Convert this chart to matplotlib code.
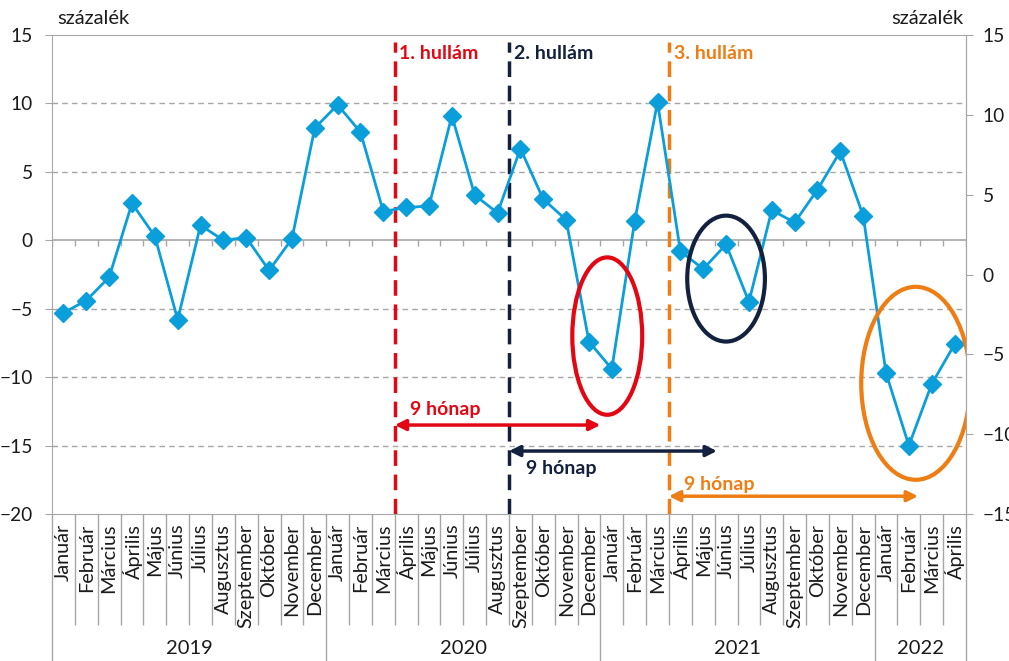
import numpy as np
import matplotlib.pyplot as plt
from matplotlib.patches import Ellipse

plt.rcParams['font.family'] = ['Lato', 'DejaVu Sans']

# --- data ---
months = ['Január', 'Február', 'Március', 'Április', 'Május', 'Június', 'Július',
          'Augusztus', 'Szeptember', 'Október', 'November', 'December']
years = ['2019', '2020', '2021', '2022']
year_len = [12, 12, 12, 4]
labels = months * 3 + months[:4]
values = [-5.3, -4.4, -2.7, 2.7, 0.3, -5.8, 1.1, 0.0, 0.2, -2.2, 0.1, 8.2,
          9.9, 7.9, 2.1, 2.4, 2.5, 9.1, 3.3, 2.0, 6.7, 3.0, 1.5, -7.4,
          -9.4, 1.4, 10.1, -0.8, -2.1, -0.3, -4.5, 2.2, 1.3, 3.7, 6.5, 1.8,
          -9.7, -15.0, -10.5, -7.6]

wave_names = ['1. hullám', '2. hullám', '3. hullám']
wave_pos = [14.5, 19.5, 26.5]
wave_end = [23.5, 28.6, 37.4]
arrow_y = [-13.5, -15.4, -18.7]
arrow_txt = [(16.7, -12.35), (21.8, -16.7), (28.7, -17.85)]
ellipses = [(23.8, -7.0, 3.06, 11.5), (29.0, -2.8, 3.4, 9.2), (37.3, -10.45, 4.77, 14.1)]

red = '#E30613'
navy = '#13213F'
orange = '#EE7D13'
wave_col = [red, navy, orange]
blue = '#0A9EDB'
gray = '#A6A6A6'
txt = '#1A1A1A'

x = np.arange(len(values))

fig = plt.figure(figsize=(10.09, 6.61), dpi=100)
ax = fig.add_axes([52/1009, 1-514/661, (966-52)/1009, (514-35)/661])

# grid
for g in [-15, -10, -5, 5, 10]:
    ax.axhline(g, color=gray, lw=1, ls=(0, (4, 3)), zorder=1)
ax.axhline(0, color=gray, lw=1.2, zorder=1)
ax.vlines(np.arange(-0.5, 40), -0.4, 0, color=gray, lw=1, zorder=1)

ax.plot(x, values, color=blue, lw=2, marker='D', markersize=9.5, zorder=5)

ax.set_xlim(-0.5, 39.5)
ax.set_ylim(-20, 15)
ax.set_yticks(range(-20, 16, 5))
for s in ax.spines.values():
    s.set_color(gray)
ax.tick_params(axis='y', length=5, color=gray, pad=9, labelsize=13.8, colors=txt)
ax.set_xticks(x, labels, rotation=90, fontsize=14.3)
ax.tick_params(axis='x', length=0, pad=7, colors=txt)

# category separators under the axis
xt = ax.get_xaxis_transform()
bounds = np.arange(-0.5, 40)
year_b = np.cumsum([0] + year_len) - 0.5
month_b = [b for b in bounds if b not in year_b]
ax.vlines(month_b, -0.232, 0, transform=xt, color=gray, lw=1, clip_on=False)
ax.vlines(year_b, -0.31, 0, transform=xt, color=gray, lw=1, clip_on=False)
starts = np.cumsum([0] + year_len)
for yr, s, n in zip(years, starts, year_len):
    ax.text(s + n/2 - 0.5, -0.28, yr, transform=xt, ha='center', va='center',
            fontsize=14.5, color=txt)

# waves
for name, p, e, ay, (tx, ty), c in zip(wave_names, wave_pos, wave_end, arrow_y, arrow_txt, wave_col):
    ax.vlines(p, -20, 14.5, color=c, lw=2.5, ls=(0, (4.5, 2.5)), zorder=4)
    ax.text(p + 0.2, 13.65, name, color=c, fontweight='bold', fontsize=14,
            ha='left', va='center')
    ax.annotate('', xy=(e, ay), xytext=(p, ay),
                arrowprops=dict(arrowstyle='<|-|>', color=c, lw=2.5,
                                mutation_scale=16, shrinkA=0, shrinkB=0), zorder=6)
    ax.text(tx, ty, '9 hónap', color=c, fontweight='bold', fontsize=14,
            ha='center', va='center')

for (cx, cy, w, h), c in zip(ellipses, wave_col):
    ax.add_patch(Ellipse((cx, cy), w, h, fill=False, ec=c, lw=3, zorder=6))

ax2 = ax.twinx()
ax2.set_ylim(-15, 15)
ax2.set_yticks(range(-15, 16, 5))
for s in ax2.spines.values():
    s.set_visible(False)
ax2.spines['right'].set_visible(True)
ax2.spines['right'].set_color(gray)
ax2.tick_params(axis='y', length=5, color=gray, pad=7, labelsize=13.8, colors=txt)

fig.text(57/1009, 1-18/661, 'százalék', ha='left', va='center', fontsize=14.5, color=txt)
fig.text(964/1009, 1-18/661, 'százalék', ha='right', va='center', fontsize=14.5, color=txt)

fig.savefig('out.png', dpi=100)
